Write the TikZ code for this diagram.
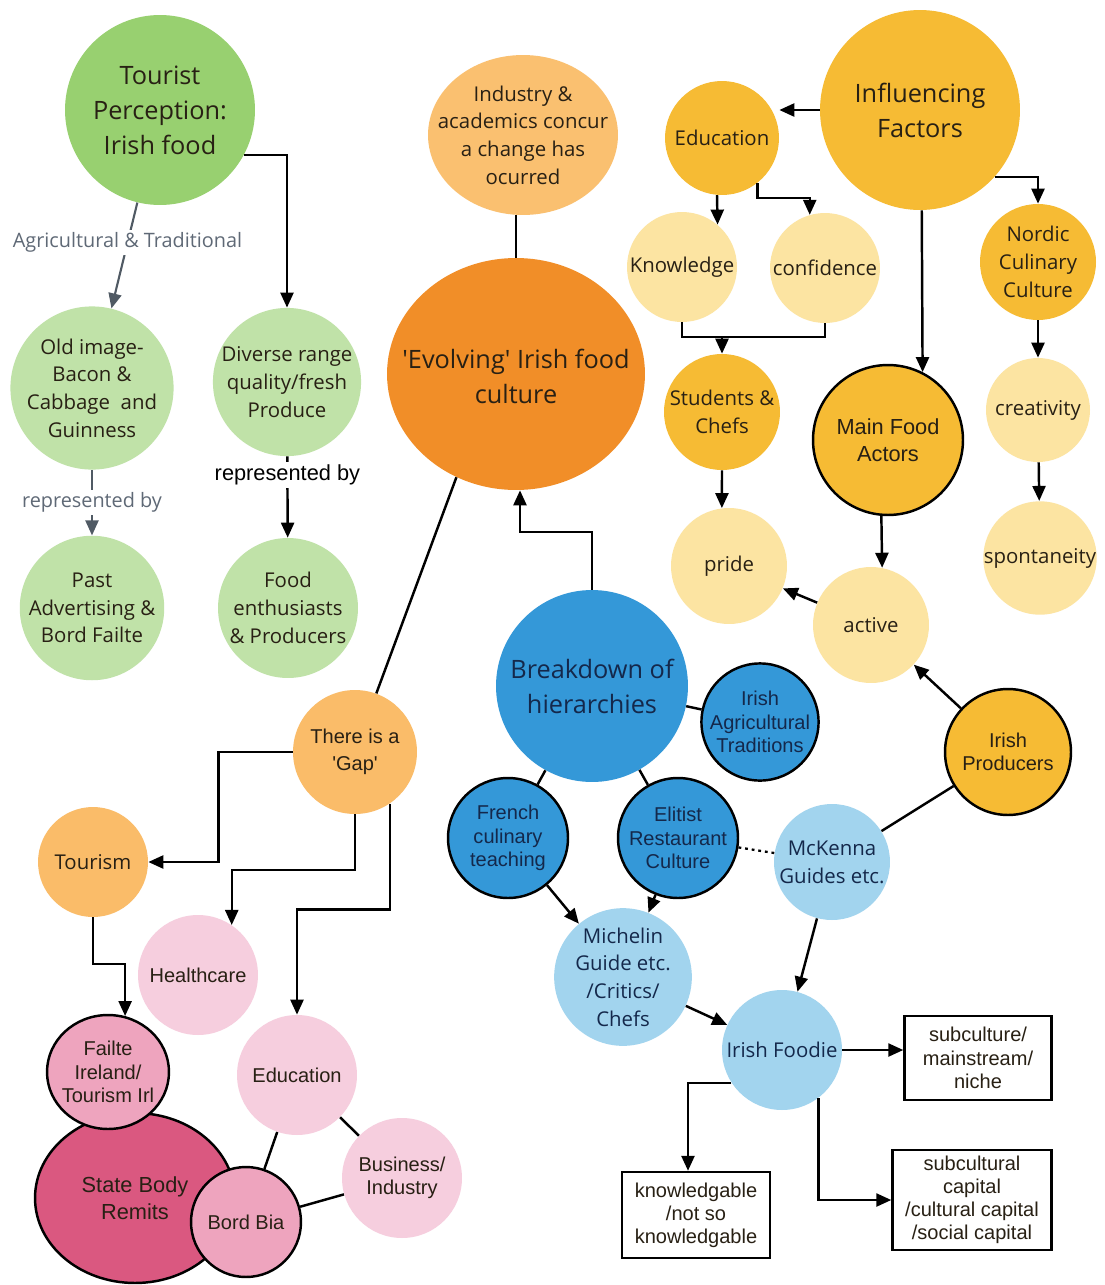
\documentclass[tikz,border=0pt]{standalone}
\usepackage{fontspec}
\setmainfont{Open Sans}
\newfontfamily\osf{Open Sans}
\newfontfamily\arialf{Liberation Sans}
\usetikzlibrary{arrows.meta,shapes.geometric,calc}
\definecolor{gdark}{RGB}{152,208,112}
\definecolor{glight}{RGB}{192,226,168}
\definecolor{indor}{RGB}{250,192,112}
\definecolor{evoor}{RGB}{241,142,40}
\definecolor{gapor}{RGB}{250,188,105}
\definecolor{gold}{RGB}{246,187,52}
\definecolor{lighty}{RGB}{252,228,162}
\definecolor{mblue}{RGB}{52,152,216}
\definecolor{lblue}{RGB}{162,212,238}
\definecolor{lpink}{RGB}{246,206,222}
\definecolor{mpink}{RGB}{238,164,190}
\definecolor{dpink}{RGB}{218,88,128}
\definecolor{txt}{RGB}{40,32,20}
\definecolor{btxt}{RGB}{20,40,75}
\definecolor{gline}{RGB}{80,90,100}
\definecolor{gtext}{RGB}{95,105,118}
\newcommand\FBig{\osf\fontsize{14.4}{19.9}\selectfont}
\newcommand\FSm{\osf\fontsize{11.6}{15.8}\selectfont}
\newcommand\FAr{\arialf\fontsize{11.4}{13.2}\selectfont}
\newcommand\FArG{\arialf\fontsize{11.4}{15.2}\selectfont}
\newcommand\FArL{\arialf\fontsize{12.4}{15.2}\selectfont}
\newcommand\FLab{\osf\fontsize{11.3}{14}\selectfont}
\begin{document}
\begin{tikzpicture}[x=0.02cm,y=-0.02cm,
  circ/.style={circle,inner sep=0pt,align=center,text=txt},
  ell/.style={ellipse,inner sep=0pt},
  tx/.style={inner sep=0pt,align=center,text=txt},
  edged/.style={draw=black,line width=1.4pt},
  ln/.style={line width=1.4pt},
  arr/.style={line width=1.4pt,-{Triangle[length=0.3cm,width=0.26cm]}},
  garr/.style={line width=1.2pt,draw=gline,-{Triangle[length=0.3cm,width=0.26cm]}},
  lab/.style={fill=white,inner sep=1.5pt,font=\FLab},
  box/.style={draw,line width=1.4pt,rectangle,inner sep=0pt,align=center,font=\FAr,text=txt}
]
\useasboundingbox (0,0) rectangle (1105,1285);
\fill[white] (0,0) rectangle (1105,1285);

% green group
\node[circ,fill=gdark,minimum size=3.8cm,font=\FBig] (tp) at (160,110) {Tourist\\Perception:\\Irish food};
\node[circ,fill=glight,minimum size=2.92cm,font=\FSm] (old) at (92,388) {Old image-\\Bacon \&\\Cabbage~ and\\Guinness};
\node[circ,fill=glight,minimum size=2.88cm,font=\FSm] (div) at (287,382) {Diverse range\\quality/fresh\\Produce};
\node[circ,fill=glight,minimum size=2.88cm,font=\FSm] (past) at (92,608) {Past\\Advertising \&\\Bord Failte};
\node[circ,fill=glight,minimum size=2.8cm,font=\FSm] (food) at (288,608) {Food\\enthusiasts\\\& Producers};

% orange
\node[ell,fill=indor,minimum width=3.8cm,minimum height=3.2cm] (ind) at (523,135) {};
\node[tx,font=\FSm] (indT) at (ind.center) {Industry \&\\academics concur\\a change has\\ocurred};
\node[ell,fill=evoor,minimum width=5.16cm,minimum height=4.64cm] (evo) at (516,374) {};
\node[tx,font=\FBig] (evoT) at ([yshift=-0.04cm]evo.center) {'Evolving' Irish food\\culture};

% yellow group
\node[circ,fill=gold,minimum size=4cm,font=\FBig] (inf) at (920,110) {Influencing\\Factors};
\node[circ,fill=gold,minimum size=2.28cm,font=\FSm] (edu) at (722,138) {Education};
\node[circ,fill=lighty,minimum size=2.2cm,font=\FSm] (know) at (682,267) {Knowledge};
\node[circ,fill=lighty,minimum size=2.2cm,font=\FSm] (conf) at (825,268) {confidence};
\node[circ,fill=gold,minimum size=2.32cm,font=\FSm] (stud) at (722,412) {Students \&\\Chefs};
\node[circ,fill=lighty,minimum size=2.32cm,font=\FSm] (pride) at (729,566) {pride};
\node[circ,fill=gold,edged,minimum size=3cm,font=\FArL] (main) at (888,440) {Main Food\\Actors};
\node[circ,fill=lighty,minimum size=2.32cm,font=\FSm] (act) at (871,625) {active};
\node[circ,fill=gold,edged,minimum size=2.52cm,font=\FAr] (prod) at (1008,752) {Irish\\Producers};
\node[circ,fill=gold,minimum size=2.32cm,font=\FSm] (nord) at (1038,262) {Nordic\\Culinary\\Culture};
\node[circ,fill=lighty,minimum size=2.08cm,font=\FSm] (crea) at (1038,410) {creativity};
\node[circ,fill=lighty,minimum size=2.2cm,font=\FSm] (spon) at (1040,558) {spontaneity};

% blue group
\node[circ,fill=mblue,minimum size=3.84cm,font=\FBig,text=btxt] (brk) at (592,686) {Breakdown of\\hierarchies};
\node[circ,fill=mblue,edged,minimum size=2.32cm,font=\FAr,text=btxt] (agri) at (760,722) {Irish\\Agricultural\\Traditions};
\node[circ,fill=mblue,edged,minimum size=2.4cm,font=\FAr,text=btxt] (fren) at (508,838) {French\\culinary\\teaching};
\node[circ,fill=mblue,edged,minimum size=2.4cm,font=\FAr,text=btxt] (elit) at (678,838) {Elitist\\Restaurant\\Culture};
\node[circ,fill=lblue,minimum size=2.32cm,font=\FSm,text=btxt] (mck) at (832,862) {McKenna\\Guides etc.};
\node[circ,fill=lblue,minimum size=2.52cm,font=\FSm,text=btxt] (mich) at (623,977) {Michelin\\Guide etc.\\/Critics/\\Chefs};
\node[circ,fill=lblue,minimum size=2.4cm,font=\FSm,text=btxt] (foodie) at (782,1050) {Irish Foodie};

\node[box,minimum width=2.94cm,minimum height=1.68cm] (b1) at (978,1058) {subculture/\\mainstream/\\niche};
\node[box,minimum width=2.96cm,minimum height=1.72cm] (b2) at (696,1215) {knowledgable\\/not so\\knowledgable};
\node[box,minimum width=3.18cm,minimum height=2.0cm] (b3) at (972,1200) {subcultural\\capital\\/cultural capital\\/social capital};

% pink group
\node[circ,fill=gapor,minimum size=2.48cm,font=\FArG] (gap) at (355,752) {There is a\\'Gap'};
\node[circ,fill=gapor,minimum size=2.2cm,font=\FSm] (tourism) at (93,862) {Tourism};
\node[circ,fill=lpink,minimum size=2.4cm,font=\FAr] (health) at (198,975) {Healthcare};
\node[circ,fill=lpink,minimum size=2.4cm,font=\FAr] (edup) at (297,1075) {Education};
\node[ell,fill=dpink,edged,minimum width=4cm,minimum height=3.4cm] (state) at (135,1198) {};
\node[tx,font=\FArL] (stateT) at (state.center) {State Body\\Remits};
\node[ell,fill=mpink,edged,minimum width=2.44cm,minimum height=2.28cm] (fail) at (108,1072) {};
\node[tx,font=\FAr] (failT) at (fail.center) {Failte\\Ireland/\\Tourism Irl};
\node[circ,fill=mpink,edged,minimum size=2.2cm,font=\FAr] (bordbia) at (246,1222) {Bord Bia};
\node[circ,fill=lpink,minimum size=2.4cm,font=\FAr] (bus) at (402,1178) {Business/\\Industry};

% connectors: green
\draw[garr] (tp) -- node[pos=0.38,lab,text=gtext]{Agricultural \& Traditional} (old);
\draw[arr] (tp.-28) -| (div.north);
\draw[garr] (old) -- node[lab,text=gtext]{represented by} (past);
\draw[arr] (div) -- node[pos=0.23,fill=white,inner sep=1.5pt,font=\FArL]{represented by} (food);

% orange
\draw[ln] (evo.north) -- (evo.north |- ind.south);
\coordinate (c1) at (520,532);
\draw[arr] (brk.north) |- (c1) -- (c1 |- evo.south);
\draw[ln] (evo.240) -- (gap.70);

% yellow
\draw[arr] (inf.west) -- (edu.east |- inf.west);
\draw[arr] (edu.265) -- (know.50);
\draw[arr] (edu.-52) |- ($(conf.106)+(0,-17)$) -- (conf.106);
\coordinate (kc) at (722,337);
\draw[ln] (know.south) |- (kc);
\draw[ln] (conf.south) |- (kc);
\draw[arr] (kc) -- (stud.north);
\draw[arr] (stud.south) -- (pride.97);
\draw[arr] (inf.-89) -- (main.63);
\draw[arr] (main.-95) -- (act.79);
\draw[arr] (act) -- (pride);
\draw[arr] (prod) -- (act);
\draw[ln] (prod) -- (mck);
\draw[arr] (inf.-42) -| (nord.north);
\draw[arr] (nord) -- (crea);
\draw[arr] (crea) -- (spon);

% blue
\draw[ln] (brk) -- (agri);
\draw[ln] (brk) -- (fren);
\draw[ln] (brk) -- (elit);
\draw[line width=1.3pt,dash pattern=on 1.6pt off 2.2pt] (elit) -- (mck);
\draw[arr] (fren) -- (mich);
\draw[arr] (elit) -- (mich);
\draw[arr] (mich) -- (foodie);
\draw[arr] (mck) -- (foodie);
\draw[arr] (foodie.east) -- (foodie.east -| b1.west);
\draw[arr] (foodie.-147) -| ($(b2.north)+(-8,0)$);
\draw[arr] (foodie.-53) |- (b3.west);

% pink
\draw[arr] (gap.west) -| ($(tourism.east)+(70,0)$) -- (tourism.east);
\draw[arr] (gap.south) |- ($(health.56)+(0,-55)$) -- (health.56);
\draw[arr] (gap.-56) |- ($(edup.north)+(0,-105)$) -- (edup.north);
\draw[arr] (tourism.south) |- ($(fail.73)+(0,-52)$) -- (fail.73);
\draw[ln] (edup) -- (bordbia);
\draw[ln] (edup) -- (bus);
\draw[ln] (bordbia) -- (bus);
\end{tikzpicture}
\end{document}
